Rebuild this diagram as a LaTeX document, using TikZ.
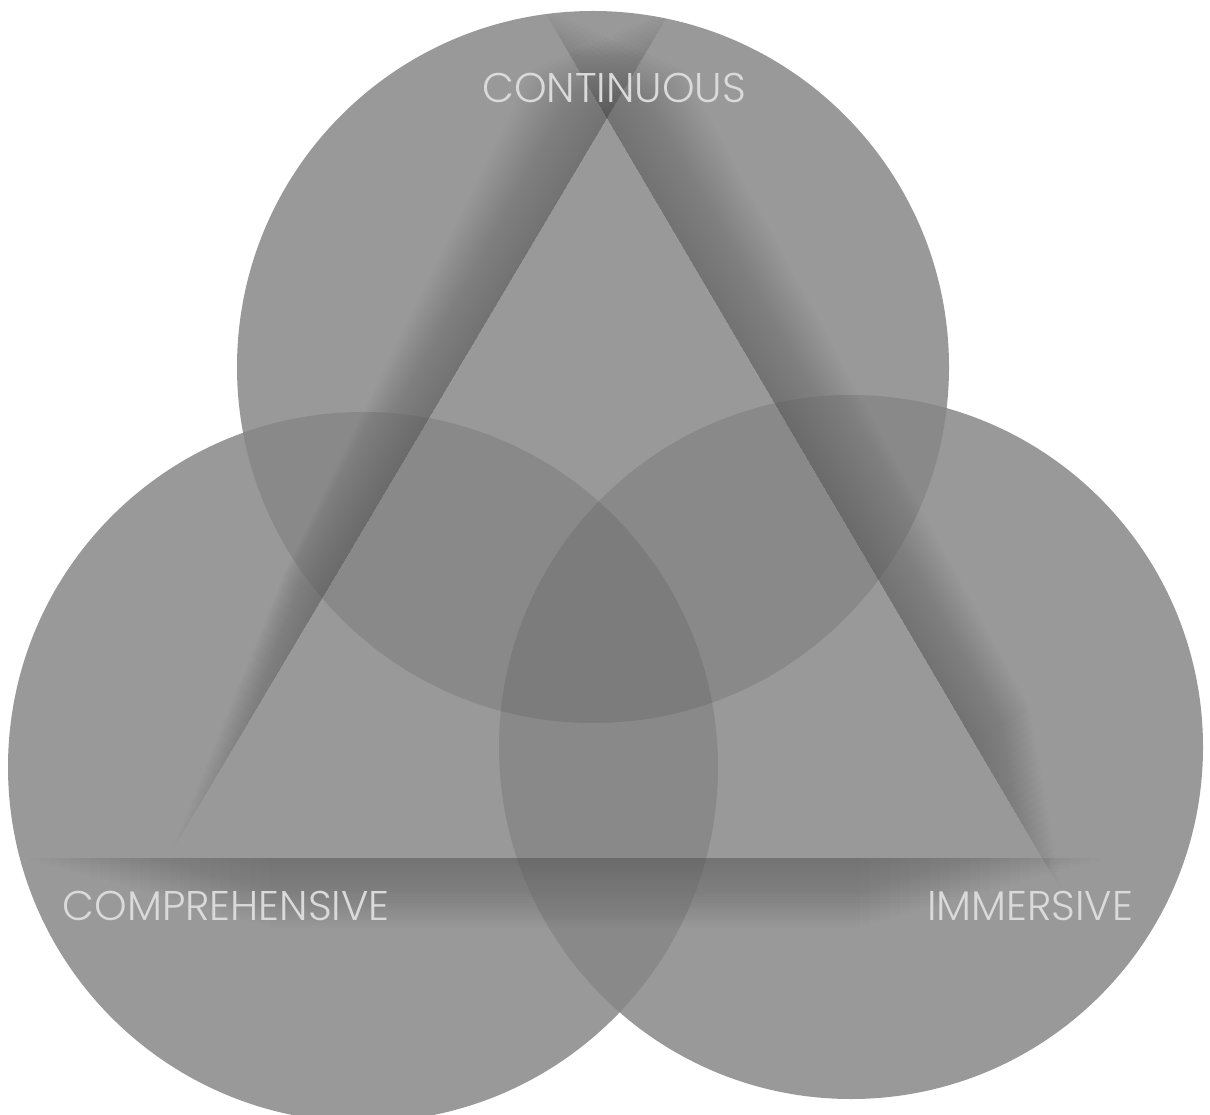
\documentclass[tikz,border=0pt]{standalone}
\usepackage{fontspec}
\newfontfamily\labelfont{Poppins Light}
\usepackage{xcolor}
\usepackage{tikz}
\usetikzlibrary{calc}

\definecolor{onecircle}{HTML}{999999}
\definecolor{twocircles}{HTML}{898989}
\definecolor{threecircles}{HTML}{7C7C7C}
\definecolor{labelgray}{HTML}{DADADA}

\begin{document}
\begin{tikzpicture}[
    every node/.style={align=center, font=\labelfont\fontsize{11.8}{14}\selectfont, text=labelgray, inner sep=0pt},
    shadowlayer/.style={fill=black, opacity=0.0075}]
    \useasboundingbox (0,0) rectangle (12.10,-11.15);
    \fill[white] (0,0) rectangle (12.10,-11.15);
    \clip (0,0) rectangle (12.10,-11.15);

    % circle centres and triangle corners
    \coordinate (top) at (5.93,-3.67);
    \coordinate (left) at (3.63,-7.67);
    \coordinate (right) at (8.51,-7.47);
    \coordinate (apex) at (6.07,-1.18);
    \coordinate (bl) at (1.68,-8.58);
    \coordinate (br) at (10.42,-8.58);

    % the three circles
    \fill[onecircle] (top) circle (3.56);
    \fill[onecircle] (left) circle (3.55);
    \fill[onecircle] (right) circle (3.52);

    % overlaps
    \begin{scope}
        \clip (top) circle (3.56);
        \fill[twocircles] (left) circle (3.55);
        \fill[twocircles] (right) circle (3.52);
    \end{scope}
    \begin{scope}
        \clip (left) circle (3.55);
        \fill[twocircles] (right) circle (3.52);
    \end{scope}
    \begin{scope}
        \clip (top) circle (3.56);
        \clip (left) circle (3.55);
        \fill[threecircles] (right) circle (3.52);
    \end{scope}

    % shadows along the triangle sides
    \begin{scope}
        \clip (top) circle (3.56) (left) circle (3.55) (right) circle (3.52);
        % left side
        \begin{scope}[shift={(bl)}, rotate=59.32]
            \foreach \k in {1,...,25}
                \fill[shadowlayer] (\k*0.12,0) -- (9.9-\k*0.05,0) -- (9.9-\k*0.05,\k*0.036) -- (\k*0.12,\k*0.018) -- cycle;
        \end{scope}
        % right side
        \begin{scope}[shift={(apex)}, rotate=-59.55]
            \foreach \k in {1,...,25}
                \fill[shadowlayer] (-1.3+\k*0.05,0) -- (9.0-\k*0.07,0) -- (9.0-\k*0.07,\k*0.026) -- (-1.3+\k*0.05,\k*0.036) -- cycle;
        \end{scope}
        % bottom side
        \begin{scope}[shift={(11.10,-8.58)}, rotate=180]
            \foreach \k in {1,...,25}
                \fill[shadowlayer] (\k*0.1,0) -- (10.9-\k*0.1,0) -- (10.9-\k*0.1,\k*0.028) -- (\k*0.1,\k*0.028) -- cycle;
        \end{scope}
    \end{scope}

    % labels
    \node (continuous) at (6.14,-0.88) {CONTINUOUS};
    \node (comprehensive) at (2.26,-9.06) {COMPREHENSIVE};
    \node (immersive) at (10.30,-9.06) {IMMERSIVE};
\end{tikzpicture}
\end{document}
